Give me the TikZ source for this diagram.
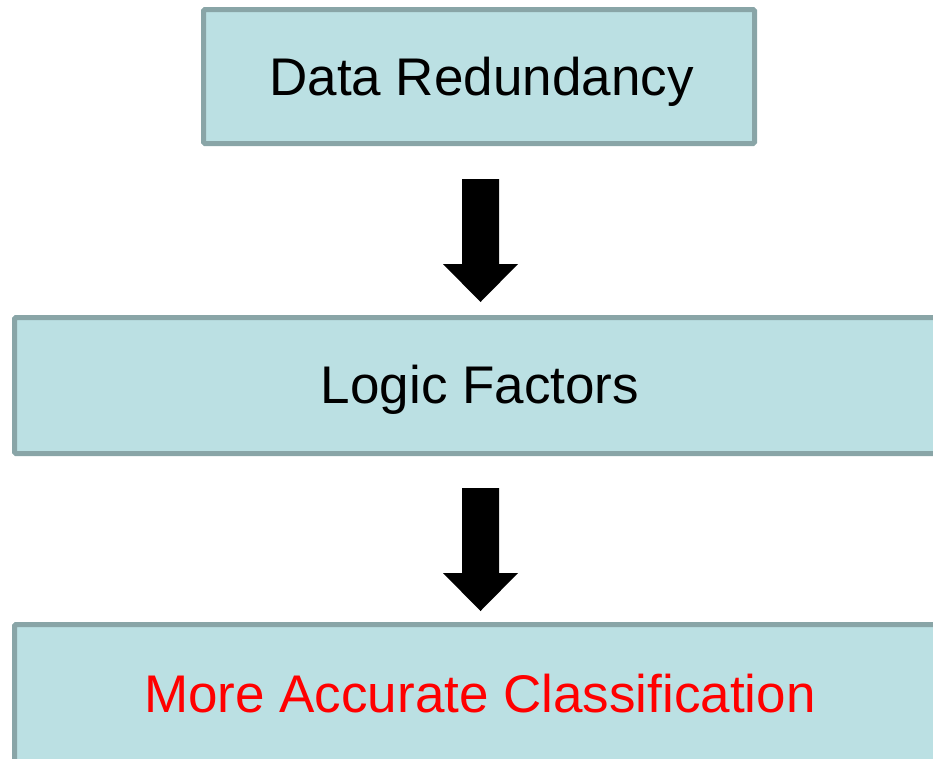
\documentclass[tikz,border=0pt]{standalone}
\usepackage{fontspec}
\setmainfont{Liberation Sans}
\definecolor{boxfill}{RGB}{187,224,227}
\definecolor{boxline}{RGB}{137,165,167}
\definecolor{redtext}{RGB}{255,0,0}
\begin{document}
\begin{tikzpicture}[x=1pt,y=-1pt,
  stagebox/.style={draw=boxline, fill=boxfill, line width=5pt, rounded corners=1.5pt},
  stagetext/.style={font=\fontsize{53}{60}\selectfont, inner sep=0pt, anchor=base},
  flowarrow/.style={fill=black}]
\useasboundingbox (0,0) rectangle (933,758);
% stage boxes
\draw[stagebox] (203.5,9.5) rectangle (754.5,143.5);
\draw[stagebox] (14.5,317.5) rectangle (946,453.5);
\draw[stagebox] (14.5,624.5) rectangle (946,762);
% labels, placed on their baselines
\node[stagetext] (redundancy) at (481.5,95) {Data Redundancy};
\node[stagetext] (logic) at (480,403) {Logic Factors};
\node[stagetext, text=redtext] (accurate) at (480,712) {More Accurate Classification};
% block arrows between stages
\foreach \dy in {0,309}{
  \fill[flowarrow] (462,179+\dy) -- (499,179+\dy) -- (499,264+\dy) -- (518,264+\dy)
    -- (480.5,302+\dy) -- (443,264+\dy) -- (462,264+\dy) -- cycle;
}
\end{tikzpicture}
\end{document}
